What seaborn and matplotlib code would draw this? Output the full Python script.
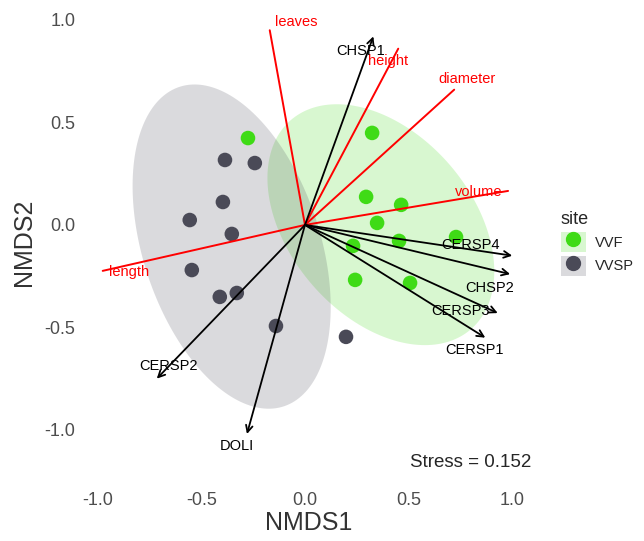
import numpy as np
import pandas as pd
import matplotlib
matplotlib.use('Agg')
import matplotlib.pyplot as plt
import seaborn as sns
from matplotlib.patches import Patch
from matplotlib.lines import Line2D
from matplotlib.legend_handler import HandlerTuple

# site scores
vvf_x = [-0.275, 0.324, 0.295, 0.464, 0.348, 0.454, 0.729, 0.232, 0.242, 0.507]
vvf_y = [0.424, 0.449, 0.137, 0.098, 0.010, -0.078, -0.059, -0.102, -0.268, -0.283]
vvsp_x = [-0.386, -0.242, -0.396, -0.556, -0.353, -0.546, -0.411, -0.329, -0.140, 0.198]
vvsp_y = [0.317, 0.302, 0.112, 0.024, -0.044, -0.220, -0.351, -0.332, -0.493, -0.546]

# environmental vectors (red)
env_names = ['leaves', 'height', 'diameter', 'volume', 'length']
env_x = [-0.17, 0.45, 0.72, 0.98, -0.976]
env_y = [0.95, 0.86, 0.66, 0.166, -0.224]
env_lab_x = [-0.04, 0.40, 0.78, 0.84, -0.85]
env_lab_y = [0.99, 0.80, 0.71, 0.16, -0.23]

# species vectors (black)
sp_names = ['CHSP1', 'CERSP4', 'CHSP2', 'CERSP3', 'CERSP1', 'CERSP2', 'DOLI']
sp_x = [0.33, 1.00, 0.99, 0.93, 0.87, -0.715, -0.28]
sp_y = [0.92, -0.15, -0.24, -0.43, -0.55, -0.75, -1.02]
sp_lab_x = [0.27, 0.80, 0.89, 0.75, 0.82, -0.66, -0.33]
sp_lab_y = [0.85, -0.10, -0.31, -0.42, -0.61, -0.69, -1.08]

stress = 0.152

df = pd.DataFrame({
    'NMDS1': vvf_x + vvsp_x,
    'NMDS2': vvf_y + vvsp_y,
    'site': ['VVF'] * len(vvf_x) + ['VVSP'] * len(vvsp_x),
})
colors = {'VVF': '#3FDB16', 'VVSP': '#4A4A57'}


def cov_trob(x, nu=5, maxit=25, tol=0.01):
    # robust t covariance, like MASS::cov.trob
    n, p = x.shape
    loc = x.mean(axis=0)
    w = np.ones(n)
    for _ in range(maxit):
        w0 = w
        X = x - loc
        _, d, vt = np.linalg.svd(np.sqrt(w / w.sum())[:, None] * X, full_matrices=False)
        wX = X @ vt.T @ np.diag(1 / d)
        Q = (wX ** 2).sum(axis=1)
        w = (nu + p) / (nu + Q)
        loc = (w[:, None] * x).sum(axis=0) / w.sum()
        if np.all(np.abs(w - w0) < tol):
            break
    cov = (np.sqrt(w)[:, None] * X).T @ (np.sqrt(w)[:, None] * X) / n
    return loc, cov


def ellipse_pts(x, level_f=4.2565):
    loc, cov = cov_trob(x)
    r = np.sqrt(2 * level_f)
    t = np.linspace(0, 2 * np.pi, 200)
    circ = np.column_stack([np.cos(t), np.sin(t)])
    ch = np.linalg.cholesky(cov).T
    return loc + r * circ @ ch


sns.set_style('white')
plt.rcParams['font.family'] = ['Liberation Sans', 'DejaVu Sans']
plt.rcParams['axes.unicode_minus'] = False

fig = plt.figure(figsize=(6.44, 5.41), dpi=100)
ax = fig.add_axes([0.126, 0.122, 0.708, 0.860])

for site in ['VVF', 'VVSP']:
    sub = df[df['site'] == site][['NMDS1', 'NMDS2']].to_numpy()
    e = ellipse_pts(sub)
    ax.fill(e[:, 0], e[:, 1], color=colors[site], alpha=0.2, lw=0, zorder=1)

sns.scatterplot(data=df, x='NMDS1', y='NMDS2', hue='site', palette=colors,
                s=110, edgecolor='none', ax=ax, legend=False, zorder=2)

for name, x, y, lx, ly in zip(env_names, env_x, env_y, env_lab_x, env_lab_y):
    ax.plot([0, x], [0, y], color='red', lw=1.4, zorder=3)
    ax.text(lx, ly, name, color='red', fontsize=10.5, ha='center', va='center', zorder=4)

for name, x, y, lx, ly in zip(sp_names, sp_x, sp_y, sp_lab_x, sp_lab_y):
    ax.annotate('', xy=(x, y), xytext=(0, 0),
                arrowprops=dict(arrowstyle='->', color='black', lw=1.3,
                                mutation_scale=12, shrinkA=0, shrinkB=0), zorder=3)
    ax.text(lx, ly, name, color='black', fontsize=10.5, ha='center', va='center', zorder=4)

ax.text(0.80, -1.16, f'Stress = {stress}', fontsize=13.5, ha='center', va='center')

ax.set_xlim(-1.08, 1.12)
ax.set_ylim(-1.22, 1.05)
ax.set_xticks([-1.0, -0.5, 0.0, 0.5, 1.0])
ax.set_yticks([-1.0, -0.5, 0.0, 0.5, 1.0])
ax.tick_params(axis='x', labelsize=13, colors='#4D4D4D', length=0, pad=12)
ax.tick_params(axis='y', labelsize=13, colors='#4D4D4D', length=0, pad=4)
ax.set_xlabel('NMDS1', fontsize=18, color='#333333', labelpad=2)
ax.set_ylabel('NMDS2', fontsize=18, color='#333333', labelpad=6)
for sp in ax.spines.values():
    sp.set_visible(False)

handles = []
for site in ['VVF', 'VVSP']:
    bg = Patch(facecolor=colors[site], alpha=0.2, edgecolor='none')
    dot = Line2D([], [], marker='o', ls='none', color=colors[site], markersize=10)
    handles.append((bg, dot))
leg = fig.legend(handles, ['VVF', 'VVSP'], title='site', loc='center left',
                 bbox_to_anchor=(0.85, 0.55), frameon=False, fontsize=10.5,
                 title_fontsize=13, handler_map={tuple: HandlerTuple(ndivide=1, pad=0)},
                 handlelength=1.75, handleheight=1.75, labelspacing=0.25, handletextpad=0.6)
leg._legend_box.align = 'left'

fig.savefig('out.png', dpi=100)
